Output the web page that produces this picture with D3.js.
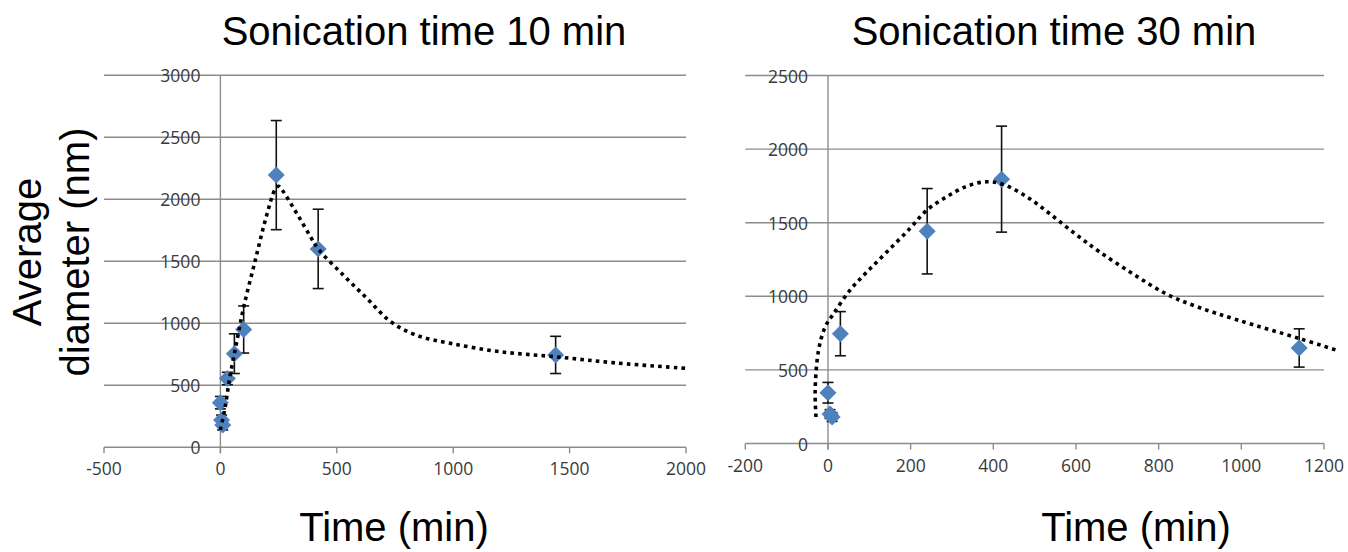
<!DOCTYPE html>
<html>
<head>
<meta charset="utf-8">
<script src="https://cdn.jsdelivr.net/npm/d3@7"></script>
<style>
  html, body { margin: 0; padding: 0; background: #fff; }
  svg { display: block; }
</style>
</head>
<body>
<svg id="chart" width="1348" height="552"></svg>
<script>
// ---------- DATA ----------
const leftTitle = "Sonication time 10 min";
const rightTitle = "Sonication time 30 min";

const leftTimes = [0, 5, 10, 30, 60, 100, 240, 420, 1440];
const leftDiam  = [360, 220, 180, 555, 755, 950, 2195, 1600, 745];
const leftErr   = [50, 40, 40, 50, 160, 190, 440, 320, 150];

const leftFitT = [0, 20, 40, 70, 100, 150, 200, 235, 250, 265, 330, 385, 420, 530, 630, 730, 840, 990, 1200, 1440, 1700, 2000];
const leftFitD = [140, 320, 560, 850, 1130, 1510, 1880, 2080, 2105, 2075, 1880, 1705, 1600, 1385, 1200, 1015, 905, 838, 771, 730, 680, 637];

const rightTimes = [0, 5, 10, 30, 240, 420, 1140];
const rightDiam  = [345, 200, 180, 746, 1442, 1796, 649];
const rightErr   = [70, 30, 30, 150, 290, 360, 130];

const rightFitT = [-29, -31, -23, -7, 13, 53, 94, 142, 198, 239, 287, 336, 384, 424, 481, 537, 600, 658, 739, 819, 892, 989, 1142, 1231];
const rightFitD = [180, 360, 630, 790, 880, 1040, 1165, 1300, 1460, 1585, 1676, 1748, 1778, 1760, 1676, 1560, 1420, 1300, 1150, 1015, 930, 841, 712, 633];

const leftXTicks  = [-500, 0, 500, 1000, 1500, 2000];
const leftYTicks  = [0, 500, 1000, 1500, 2000, 2500, 3000];
const rightXTicks = [-200, 0, 200, 400, 600, 800, 1000, 1200];
const rightYTicks = [0, 500, 1000, 1500, 2000, 2500];

const xAxisTitle = "Time (min)";
const yAxisTitle = ["Average", "diameter (nm)"];

// ---------- DRAW ----------
const svg = d3.select("#chart");
const gridColor = "#8c8c8c";
const markerColor = "#4f81bd";
const tickFont = "'Open Sans', 'Liberation Sans', sans-serif";
const titleFont = "'Liberation Sans', Arial, sans-serif";

function drawPanel(cfg) {
  const x = d3.scaleLinear().domain(cfg.xDomain).range(cfg.xRange);
  const y = d3.scaleLinear().domain(cfg.yDomain).range(cfg.yRange);
  const g = svg.append("g");

  // horizontal gridlines
  g.selectAll("line.grid").data(cfg.yTicks).join("line")
    .attr("x1", cfg.xRange[0]).attr("x2", cfg.xRange[1])
    .attr("y1", d => y(d)).attr("y2", d => y(d))
    .attr("stroke", gridColor).attr("stroke-width", 1.4);

  // y axis line at x = 0
  g.append("line")
    .attr("x1", x(0)).attr("x2", x(0))
    .attr("y1", y(cfg.yDomain[1])).attr("y2", y(0) + 6)
    .attr("stroke", gridColor).attr("stroke-width", 1.4);

  // x tick marks
  g.selectAll("line.xt").data(cfg.xTicks).join("line")
    .attr("x1", d => x(d)).attr("x2", d => x(d))
    .attr("y1", y(0)).attr("y2", y(0) + 6)
    .attr("stroke", gridColor).attr("stroke-width", 1.4);

  // y tick labels
  g.selectAll("text.yl").data(cfg.yTicks).join("text")
    .attr("x", x(0) - 20).attr("y", d => y(d))
    .attr("text-anchor", "end").attr("dominant-baseline", "central")
    .attr("font-family", tickFont).attr("font-size", 17.5).attr("fill", "#3a3a3a")
    .text(d => d);

  // x tick labels
  g.selectAll("text.xl").data(cfg.xTicks).join("text")
    .attr("x", d => x(d)).attr("y", y(0) + 21)
    .attr("text-anchor", "middle").attr("dominant-baseline", "central")
    .attr("font-family", tickFont).attr("font-size", 17.5).attr("fill", "#3a3a3a")
    .text(d => d);

  const pts = cfg.times.map((t, i) => ({ t, v: cfg.diam[i], e: cfg.err[i] }));

  // error bars
  const eb = g.selectAll("g.eb").data(pts).join("g").attr("stroke", "#111").attr("stroke-width", 1.6);
  eb.append("line").attr("x1", d => x(d.t)).attr("x2", d => x(d.t))
    .attr("y1", d => y(d.v + d.e)).attr("y2", d => y(d.v - d.e));
  eb.append("line").attr("x1", d => x(d.t) - 5.5).attr("x2", d => x(d.t) + 5.5)
    .attr("y1", d => y(d.v + d.e)).attr("y2", d => y(d.v + d.e));
  eb.append("line").attr("x1", d => x(d.t) - 5.5).attr("x2", d => x(d.t) + 5.5)
    .attr("y1", d => y(d.v - d.e)).attr("y2", d => y(d.v - d.e));

  // markers (diamonds)
  const r = 8.5;
  g.selectAll("path.mk").data(pts).join("path")
    .attr("d", d => {
      const cx = x(d.t), cy = y(d.v);
      return `M${cx},${cy - r}L${cx + r},${cy}L${cx},${cy + r}L${cx - r},${cy}Z`;
    })
    .attr("fill", markerColor);

  // dotted trend curve
  const fit = cfg.fitT.map((t, i) => [t, cfg.fitD[i]]);
  g.append("path")
    .attr("d", d3.line().x(d => x(d[0])).y(d => y(d[1])).curve(d3.curveCatmullRom.alpha(0.5))(fit))
    .attr("fill", "none").attr("stroke", "#000").attr("stroke-width", 3.6)
    .attr("stroke-dasharray", "3.6,4.2");

  // title
  svg.append("text")
    .attr("x", cfg.titleX).attr("y", 45)
    .attr("text-anchor", "middle")
    .attr("font-family", titleFont).attr("font-size", 40).attr("fill", "#000")
    .text(cfg.title);

  // x axis title
  svg.append("text")
    .attr("x", cfg.xTitleX).attr("y", 541)
    .attr("text-anchor", "middle")
    .attr("font-family", titleFont).attr("font-size", 40).attr("fill", "#000")
    .text(xAxisTitle);
}

drawPanel({
  xDomain: [-500, 2000], xRange: [104, 686],
  yDomain: [0, 3000], yRange: [447.3, 75.3],
  xTicks: leftXTicks, yTicks: leftYTicks,
  times: leftTimes, diam: leftDiam, err: leftErr,
  fitT: leftFitT, fitD: leftFitD,
  title: leftTitle, titleX: 424, xTitleX: 394
});

drawPanel({
  xDomain: [-200, 1200], xRange: [745.3, 1324],
  yDomain: [0, 2500], yRange: [443.5, 75.5],
  xTicks: rightXTicks, yTicks: rightYTicks,
  times: rightTimes, diam: rightDiam, err: rightErr,
  fitT: rightFitT, fitD: rightFitD,
  title: rightTitle, titleX: 1054, xTitleX: 1136
});

// y axis title (two lines, rotated)
const yt = svg.append("text")
  .attr("transform", "translate(0,252) rotate(-90)")
  .attr("text-anchor", "middle")
  .attr("font-family", titleFont).attr("font-size", 40).attr("fill", "#000");
yt.append("tspan").attr("x", 0).attr("y", 41).text(yAxisTitle[0]);
yt.append("tspan").attr("x", 0).attr("y", 89).text(yAxisTitle[1]);
</script>
</body>
</html>
